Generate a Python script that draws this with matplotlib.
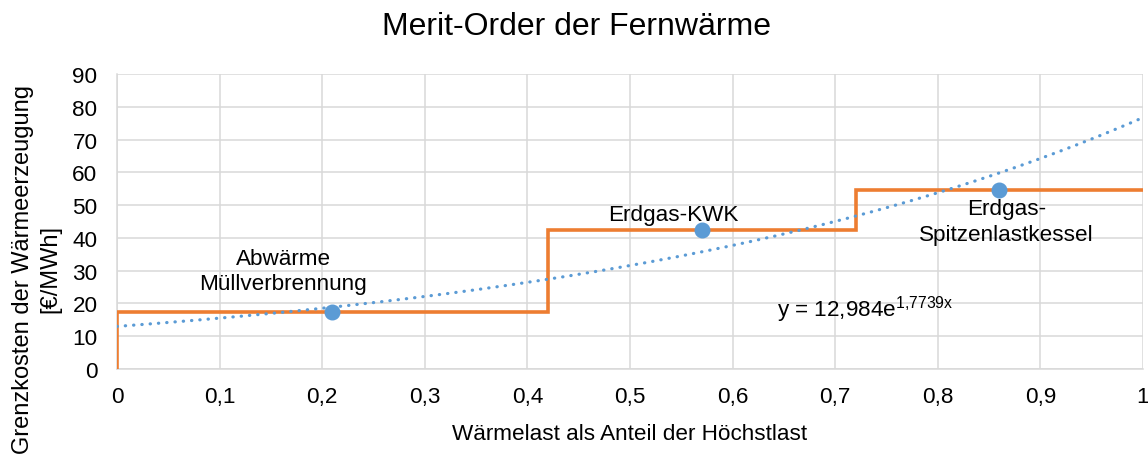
import matplotlib

matplotlib.use("Agg")
import matplotlib.pyplot as plt
import numpy as np

plt.rcParams["font.family"] = ["Liberation Sans", "DejaVu Sans"]
plt.rcParams["mathtext.default"] = "regular"

# Merit-Order: Leistungsgrenzen (Anteil der Höchstlast) und Grenzkosten je Erzeuger
bounds = [0.0, 0.42, 0.72, 1.0]
costs = [17.5, 42.3, 54.5]
names = ["Abwärme\nMüllverbrennung", "Erdgas-KWK", "Erdgas-\nSpitzenlastkessel"]
x_ticks = [0, 0.1, 0.2, 0.3, 0.4, 0.5, 0.6, 0.7, 0.8, 0.9, 1.0]
y_ticks = [0, 10, 20, 30, 40, 50, 60, 70, 80, 90]

ORANGE = "#ED7D31"
BLUE = "#5B9BD5"
GRID = "#D9D9D9"
TXT = "#000000"
FS = 16.2

W, H = 1148, 456
fig = plt.figure(figsize=(W / 100, H / 100), dpi=100)
ax = fig.add_axes([117 / W, 1 - 370 / H, 1026 / W, 295 / H])

# Treppenkurve
sx, sy = [bounds[0]], [0.0]
for i, c in enumerate(costs):
    sx += [bounds[i], bounds[i + 1]]
    sy += [c, c]
ax.plot(sx, sy, color=ORANGE, lw=2.6, zorder=3, solid_joinstyle="miter")

# Mittelpunkte der Stufen
mids = [(bounds[i] + bounds[i + 1]) / 2 for i in range(len(costs))]
ax.plot(mids, costs, "o", color=BLUE, ms=10.5, zorder=4, mec=BLUE)

# exponentielle Trendlinie (Fit wie in Excel)
k, lna = np.polyfit(mids, np.log(costs), 1)
tx = np.linspace(0, 1, 300)
ax.plot(tx, np.exp(lna) * np.exp(k * tx), color=BLUE, lw=2.3,
        linestyle=(0, (0.1, 2.5)), dash_capstyle="round", zorder=5)

# Beschriftungen
ax.text(0.162, 29.9, names[0], ha="center", va="center", fontsize=FS, color=TXT,
        linespacing=1.3, zorder=6)
ax.text(0.542, 45.5, names[1], ha="center", va="baseline", fontsize=FS, color=TXT,
        zorder=6)
ax.text(0.867, 45.0, names[2], ha="center", va="center", fontsize=FS, color=TXT,
        linespacing=1.3, zorder=6)
ax.text(0.643, 16.2, r"y = 12,984e$^{1{,}7739x}$", ha="left", va="baseline",
        fontsize=FS, color=TXT, zorder=6)

ax.set_xlim(0, 1)
ax.set_ylim(0, 90)
ax.set_xticks(x_ticks)
ax.set_yticks(y_ticks)
ax.set_xticklabels([f"{v:g}".replace(".", ",") for v in x_ticks])
ax.set_yticklabels([str(v) for v in y_ticks])
ax.tick_params(axis="both", length=0, labelsize=FS, colors=TXT)
ax.tick_params(axis="y", pad=14)
ax.tick_params(axis="x", pad=12)
ax.grid(True, color=GRID, lw=1.1, zorder=0)
ax.set_axisbelow(True)
for side in ["top", "right"]:
    ax.spines[side].set_visible(False)
for side in ["left", "bottom"]:
    ax.spines[side].set_color(GRID)
    ax.spines[side].set_linewidth(1.1)

ax.set_xlabel("Wärmelast als Anteil der Höchstlast", fontsize=FS, color=TXT, labelpad=12)
ax.set_ylabel("Grenzkosten der Wärmeerzeugung\n[€/MWh]", fontsize=17, color=TXT,
              linespacing=1.3)
ax.yaxis.set_label_coords(-0.054, 0.342)

fig.text(576 / W, 1 - 27 / H, "Merit-Order der Fernwärme", ha="center", va="center",
         fontsize=23, color=TXT)

fig.savefig("out.png", dpi=100, facecolor="white")
